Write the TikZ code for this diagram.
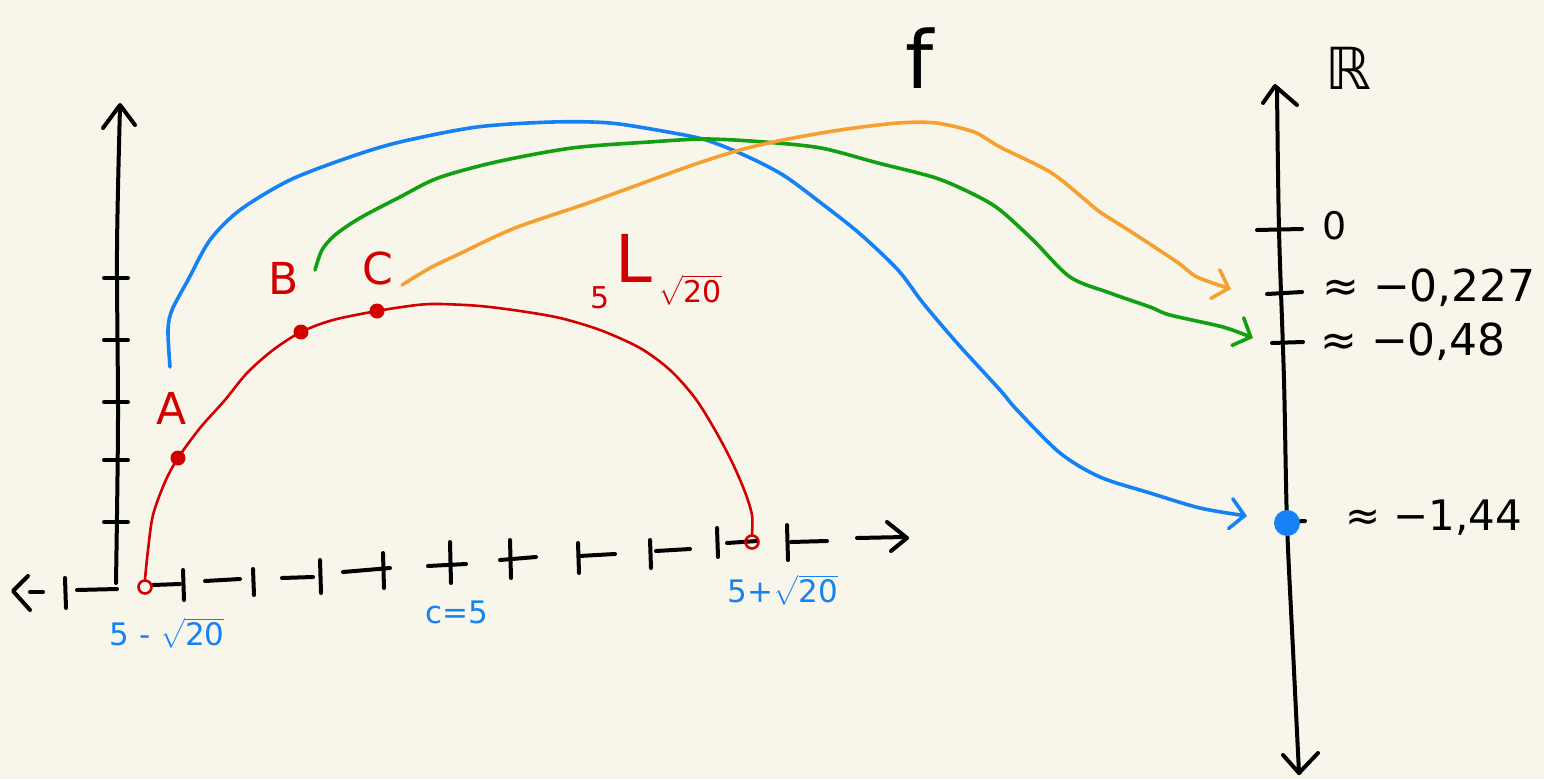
\documentclass[tikz,border=0pt]{standalone}
\usepackage{amsmath}
\usepackage{fontspec}
\setmainfont{DejaVu Sans}
\usetikzlibrary{arrows.meta}
\definecolor{fnBg}{HTML}{F8F6EA}
\definecolor{fnRed}{HTML}{D20000}
\definecolor{fnBlue}{HTML}{1482F5}
\definecolor{fnGreen}{HTML}{12A012}
\definecolor{fnOrange}{HTML}{F5A030}
\tikzset{
  fnaxis/.style={draw=black,line width=4pt,line cap=round,line join=round},
  fncurve/.style={draw=fnRed,line width=2.6pt,line cap=round},
  fnmap/.style={line width=3.6pt,line cap=round,line join=round,
                -{Straight Barb[length=14pt,width=30pt,line cap=round]}},
  fnpt/.style={circle,fill=fnRed,inner sep=0pt,minimum size=15pt},
  fnhole/.style={circle,draw=fnRed,line width=2.6pt,inner sep=0pt,minimum size=13pt},
  fnlbl/.style={inner sep=0pt,font=\fontsize{44}{48}\selectfont},
  fnsmall/.style={inner sep=0pt,text=fnBlue,font=\fontsize{31}{34}\selectfont},
}
\begin{document}
\begin{tikzpicture}[x=1pt,y=-1pt]
  \fill[fnBg] (0,0) rectangle (1544,779);
  \useasboundingbox (0,0) rectangle (1544,779);

  % Domain axes, drawn in pieces like the sketch.
  \draw[fnaxis] plot[smooth] coordinates {(116,583) (118,420) (117,250) (120,107)};
  \draw[fnaxis] (103,128) -- (120,105) -- (135,125);
  \draw[fnaxis] (104,522) -- (128,522);
  \draw[fnaxis] (104,460) -- (128,460);
  \draw[fnaxis] (104,402) -- (128,402);
  \draw[fnaxis] (104,340) -- (128,340);
  \draw[fnaxis] (104,278) -- (128,278);

  \draw[fnaxis] (28,576) -- (13,591) -- (30,610);
  \draw[fnaxis] (30,592) -- (43,592);
  \draw[fnaxis] (65,578) -- (66,608);
  \draw[fnaxis] (77,590) -- (117,589);
  \draw[fnaxis] (153,585) -- (180,584);
  \draw[fnaxis] (183,570) -- (184,600);
  \draw[fnaxis] (205,581) -- (240,579);
  \draw[fnaxis] (253,569) -- (254,595);
  \draw[fnaxis] (282,578) -- (313,577);
  \draw[fnaxis] (320,560) -- (321,593);
  \draw[fnaxis] (343,572) -- (390,568);
  \draw[fnaxis] (383,553) -- (384,588);
  \draw[fnaxis] (428,566) -- (466,564);
  \draw[fnaxis] (450,542) -- (451,583);
  \draw[fnaxis] (500,560) -- (536,557);
  \draw[fnaxis] (510,540) -- (511,578);
  \draw[fnaxis] (578,543) -- (579,573);
  \draw[fnaxis] (579,556) -- (615,554);
  \draw[fnaxis] (650,540) -- (651,568);
  \draw[fnaxis] (656,551) -- (690,549);
  \draw[fnaxis] (717,528) -- (718,557);
  \draw[fnaxis] (727,543) -- (757,541);
  \draw[fnaxis] (787,525) -- (788,560);
  \draw[fnaxis] (791,542) -- (827,541);
  \draw[fnaxis] (857,538) -- (905,537);
  \draw[fnaxis] (887,522) -- (907,538) -- (891,551);

  % Target axis R.
  \draw[fnaxis] plot[smooth] coordinates {(1277,88) (1279,230) (1284,380) (1287,523) (1293,650) (1299,773)};
  \draw[fnaxis] (1263,103) -- (1275,86) -- (1297,105);
  \draw[fnaxis] (1283,755) -- (1299,773) -- (1318,753);
  \draw[fnaxis] (1257,230) -- (1302,229);
  \draw[fnaxis] (1267,294) -- (1302,292);
  \draw[fnaxis] (1272,343) -- (1303,342);
  \draw[fnaxis] (1288,522) -- (1305,521);

  % Function graph on the interval.
  \node[fnhole] (lo) at (145,587) {};
  \node[fnhole] (hi) at (752,542) {};
  \draw[fncurve] plot[smooth] coordinates {(lo.north) (148,550) (153,515) (165,482) (178,458)
      (200,428) (225,400) (247,373) (273,350) (301,332) (333,320) (377,311) (417,305)
      (440,304) (480,306) (520,311) (560,318) (600,330) (640,348) (670,370) (695,398)
      (715,430) (732,462) (745,492) (752,515) (hi.north)};
  \node[fnpt] (ptA) at (178,458) {};
  \node[fnpt] (ptB) at (301,332) {};
  \node[fnpt] (ptC) at (377,311) {};
  \node[fnlbl,text=fnRed] (labA) at (172,408) {A};
  \node[fnlbl,text=fnRed] (labB) at (284,278) {B};
  \node[fnlbl,text=fnRed] (labC) at (378,268) {C};
  \node[inner sep=0pt,text=fnRed,font=\fontsize{30}{32}\selectfont] (five) at (600,298) {5};
  \node[inner sep=0pt,text=fnRed,font=\fontsize{66}{70}\selectfont] (ell) at (634,258) {L};
  \node[inner sep=0pt,text=fnRed,font=\fontsize{30}{32}\selectfont] (rt) at (690,290) {$\sqrt{\text{20}}$};

  % Interval labels.
  \node[fnsmall] (lolbl) at (167,633) {5 - $\sqrt{\text{20}}$};
  \node[fnsmall] (mid) at (457,612) {c=5};
  \node[fnsmall] (hilbl) at (783,590) {5+$\sqrt{\text{20}}$};

  % Value axis labels.
  \node[inner sep=0pt,font=\fontsize{80}{84}\selectfont] (fname) at (920,58) {f};
  \node[inner sep=0pt,font=\fontsize{58}{62}\selectfont] (reals) at (1348,68) {ℝ};
  \node[inner sep=0pt,font=\fontsize{38}{40}\selectfont] (zero) at (1335,226) {0};
  \node[fnlbl,anchor=west] (vC) at (1322,288) {≈ −0,227};
  \node[fnlbl,anchor=west] (vB) at (1320,342) {≈ −0,48};
  \node[fnlbl,anchor=west,font=\fontsize{42}{46}\selectfont] (vA) at (1345,518) {≈ −1,44};
  \node[circle,fill=fnBlue,inner sep=0pt,minimum size=26pt] (img) at (1287,523) {};

  % Images of A, B and C.
  \coordinate (bs) at (170,367);
  \coordinate (be) at (1247,516);
  \draw[fnmap,fnBlue] plot[smooth] coordinates {(bs) (168,330) (172,310) (188,280) (210,240)
      (240,210) (290,180) (350,157) (400,142) (477,127) (553,122) (610,123) (668,132)
      (706,140) (744,155) (783,175) (821,203) (859,233) (898,270) (923,303) (957,343)
      (1000,390) (1017,410) (1060,453) (1100,477) (1150,493) (1200,508) (be)};
  \coordinate (gs) at (315,270);
  \coordinate (ge) at (1253,338);
  \draw[fnmap,fnGreen] plot[smooth] coordinates {(gs) (322,250) (335,235) (360,218) (400,197)
      (438,178) (496,162) (572,148) (649,142) (706,139) (764,142) (821,148) (878,163)
      (936,178) (975,195) (1000,210) (1033,240) (1070,277) (1110,293) (1150,307)
      (1170,315) (1223,327) (ge)};
  \coordinate (os) at (402,285);
  \coordinate (oe) at (1231,289);
  \draw[fnmap,fnOrange] plot[smooth] coordinates {(os) (430,268) (457,255) (515,228) (591,202)
      (687,167) (740,150) (783,140) (840,130) (898,123) (936,123) (974,132) (1000,147)
      (1050,172) (1083,198) (1100,212) (1133,233) (1177,262) (1197,277) (oe)};
\end{tikzpicture}
\end{document}
